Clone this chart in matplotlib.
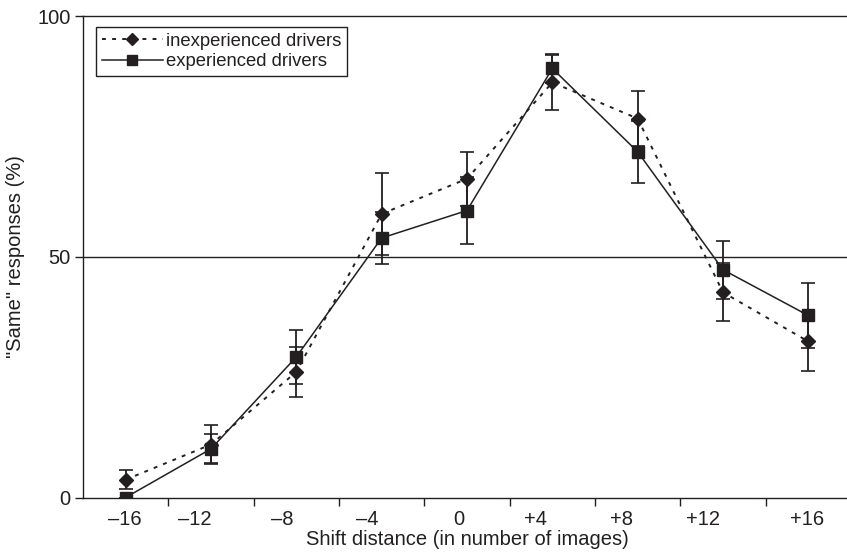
import matplotlib
matplotlib.use("Agg")
import matplotlib.pyplot as plt
from matplotlib.lines import Line2D
import numpy as np

plt.rcParams['font.family'] = ['Liberation Sans', 'DejaVu Sans']

# ---- data ----
shift_labels = ["\u201316", "\u201312", "\u20138", "\u20134", "0", "+4", "+8", "+12", "+16"]
inexperienced = [3.7, 11.0, 26.1, 58.9, 66.2, 86.2, 78.7, 42.6, 32.4]
inexperienced_err = [2.0, 4.0, 5.2, 8.5, 5.6, 5.8, 5.8, 6.0, 6.2]
experienced = [0.0, 10.1, 29.2, 53.9, 59.6, 89.1, 71.8, 47.3, 37.8]
experienced_err = [0.0, 3.0, 5.6, 5.4, 7.0, 3.0, 6.4, 6.0, 6.7]
series_names = ['inexperienced drivers', 'experienced drivers']

# ---- layout ----
label_offsets = [-0.01, -0.19, -0.16, -0.17, -0.10, -0.20, -0.19, -0.23, -0.01]
INK = '#231f20'
DOT = (0, (2, 3.2))

fig = plt.figure(figsize=(8.47, 5.57), dpi=100)
ax = fig.add_axes([83/847, 1-497.5/557, (851-83)/847, (497.5-16)/557])

x = np.arange(len(shift_labels)) + 0.5

ax.axhline(50, color=INK, lw=1.0, zorder=1)

ax.errorbar(x, inexperienced, yerr=inexperienced_err, color=INK, lw=1.4,
            ls=DOT, marker='D', ms=7, mfc=INK, mec=INK,
            ecolor=INK, elinewidth=1.3, capsize=5, capthick=1.2, zorder=3)
ax.errorbar(x, experienced, yerr=experienced_err, color=INK, lw=1.1,
            ls='-', marker='s', ms=8.5, mfc=INK, mec=INK,
            ecolor=INK, elinewidth=1.3, capsize=5, capthick=1.2, zorder=4)

ax.set_xlim(0, len(shift_labels))
ax.set_ylim(0, 100)

ax.set_xticks(np.arange(1, len(shift_labels)))
ax.set_xticklabels([])
ax.set_xticks(x + np.array(label_offsets), minor=True)
ax.set_xticklabels(shift_labels, minor=True)
ax.tick_params(axis='x', which='major', direction='out', length=6, width=1, color=INK)
ax.tick_params(axis='x', which='minor', length=0, pad=9, labelsize=14.5, labelcolor=INK)

ax.set_yticks([0, 50, 100])
ax.tick_params(axis='y', direction='out', length=6, width=1, color=INK,
               labelsize=14.5, labelcolor=INK, pad=3)

for s in ['left', 'bottom', 'top']:
    ax.spines[s].set_color(INK)
    ax.spines[s].set_linewidth(1.0)
ax.spines['right'].set_visible(False)

ax.set_xlabel('Shift distance (in number of images)', fontsize=14.5, color=INK, labelpad=1)
ax.set_ylabel('"Same" responses (%)', fontsize=14.5, color=INK, labelpad=9)

handles = [
    Line2D([], [], color=INK, lw=1.4, ls=DOT, marker='D', ms=6, mfc=INK, mec=INK),
    Line2D([], [], color=INK, lw=1.1, ls='-', marker='s', ms=6.5, mfc=INK, mec=INK),
]
leg = ax.legend(handles, series_names, loc='upper left', bbox_to_anchor=(0.017, 0.977),
                fontsize=13.3, frameon=True, fancybox=False, edgecolor=INK, framealpha=1,
                handlelength=3.3, handletextpad=0.2, borderpad=0.3,
                labelspacing=0.2, borderaxespad=0)
leg.get_frame().set_linewidth(1.0)
for t in leg.get_texts():
    t.set_color(INK)

fig.savefig('out.png', dpi=100)
